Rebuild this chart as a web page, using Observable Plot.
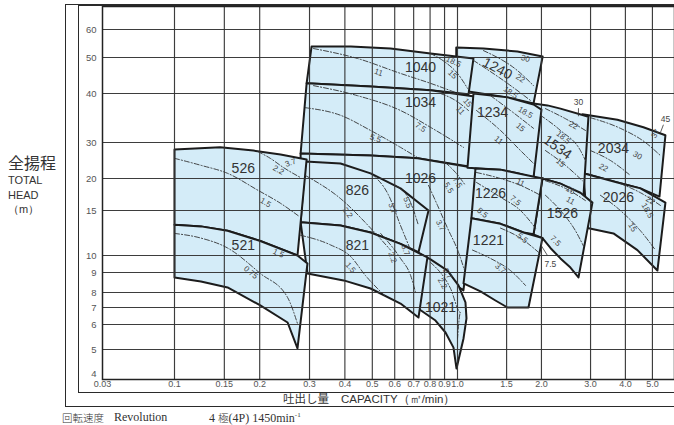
<!DOCTYPE html>
<html><head><meta charset="utf-8">
<script src="https://cdn.jsdelivr.net/npm/d3@7"></script>
<script src="https://cdn.jsdelivr.net/npm/@observablehq/plot@0.6"></script>
<style>
html,body{margin:0;padding:0;background:#fff}
body{width:674px;height:425px;position:relative;overflow:hidden;font-family:"Liberation Sans",Arial,sans-serif;color:#333}
#chart{position:absolute;left:0;top:0}
.box{position:absolute;border:1.4px solid #2a2a2a;box-sizing:border-box}
#outer{left:65px;top:4px;width:640px;height:403px}
#inner{left:78px;top:5px;width:640px;height:388px}
#ytitle{position:absolute;left:8px;top:151px;line-height:14.5px;font-size:11px;color:#333}
#ytitle .jp{font-family:"Noto Sans CJK JP";font-size:16px;line-height:22px}
#xtitle{position:absolute;left:283px;top:390px;font-size:11.5px;white-space:nowrap;color:#333}
#xtitle .jp{font-family:"Noto Sans CJK JP";font-size:11.5px}
.cap{position:absolute;top:410px;font-size:12px;font-family:"Liberation Serif","DejaVu Serif",serif;color:#333;white-space:nowrap}
.cap .jp{font-family:"Noto Sans CJK JP";font-weight:300}
</style></head><body>
<div id="outer" class="box"></div>
<div id="inner" class="box"></div>
<div id="chart"></div>
<div id="ytitle"><span class="jp">全揚程</span><br>TOTAL<br>HEAD<br>（m）</div>
<div id="xtitle"><span class="jp">吐出し量</span>　CAPACITY（㎥/min）</div>
<div class="cap" style="left:62px;top:410px"><span class="jp" style="font-size:10.5px">回転速度</span></div>
<div class="cap" style="left:114px">Revolution</div>
<div class="cap" style="left:209px">4 <span class="jp" style="font-size:10.5px">極</span>(4P) 1450min<sup style="font-size:7px">-1</sup></div>
<script>
// ---- axis ticks ----
const xTicks = [0.03,0.1,0.15,0.2,0.3,0.4,0.5,0.6,0.7,0.8,0.9,1.0,1.5,2.0,3.0,4.0,5.0];
const xTickLabels = ["0.03","0.1","0.15","0.2","0.3","0.4","0.5","0.6","0.7","0.8","0.9","1.0","1.5","2.0","3.0","4.0","5.0"];
const yTicks = [4,5,6,7,8,9,10,15,20,30,40,50,60];

// ---- pump regions [capacity m3/min, head m] ----
const r1240 = [[0.99,53.4],[1.24,53.0],[1.64,52.0],[2.02,50.3],[1.873,37.7],[1.511,39.1],[1.095,40.5],[0.99,40.5]];
const r1040 = [[0.305,53.7],[0.42,53.7],[0.58,53.0],[0.803,51.3],[1.141,49.7],[1.095,39.8],[0.803,40.8],[0.493,41.8],[0.293,42.6]];
const r1034 = [[0.293,42.6],[0.493,41.8],[0.803,40.8],[1.15,39.3],[1.10,22.9],[0.723,25.1],[0.493,25.9],[0.279,26.5]];
const r1026 = [[0.279,26.5],[0.493,25.9],[0.723,25.1],[1.09,22.8],[1.17,22.3],[1.135,14.0],[1.05,8.1],[1.0,8.3],[0.92,9.0],[0.80,9.7],[0.70,10.4],[0.58,11.3],[0.493,12.2],[0.386,13.0],[0.279,13.5]];
const r1021 = [[0.493,12.3],[0.58,11.4],[0.70,10.5],[0.803,9.76],[0.922,9.11],[1.008,8.34],[1.068,7.32],[1.077,6.34],[1.051,5.42],[1.017,4.78],[0.992,4.34],[0.968,5.07],[0.907,5.66],[0.836,6.22],[0.752,6.75],[0.683,7.25],[0.58,7.93],[0.493,8.34]];
const r826 = [[0.290,24.2],[0.386,23.7],[0.493,21.2],[0.629,18.3],[0.79,15.0],[0.728,10.3],[0.629,11.1],[0.493,12.3],[0.386,13.1],[0.279,13.5]];
const r821 = [[0.279,13.5],[0.386,13.1],[0.493,12.3],[0.629,11.1],[0.783,9.88],[0.728,6.39],[0.629,7.25],[0.493,8.19],[0.396,8.59],[0.295,8.95]];
const r526 = [[0.1,27.7],[0.145,28.4],[0.19,27.4],[0.237,26.2],[0.293,24.8],[0.272,10.0],[0.201,11.4],[0.154,12.5],[0.124,13.0],[0.1,13.2]];
const r521 = [[0.1,13.2],[0.124,13.0],[0.154,12.5],[0.201,11.4],[0.272,10.0],[0.295,9.52],[0.272,5.04],[0.251,6.11],[0.201,7.13],[0.154,8.24],[0.124,8.54],[0.1,8.74]];
const r2034 = [[2.806,35.4],[3.745,34.3],[4.642,32.8],[5.567,31.3],[5.30,17.0],[4.529,18.3],[3.745,19.3],[2.829,21.2]];
const r2026 = [[2.829,21.2],[3.745,19.3],[4.529,18.3],[5.567,16.1],[5.211,9.11],[4.418,10.5],[3.624,12.2],[2.924,12.8]];
const r1534 = [[1.873,37.7],[2.102,37.3],[2.34,36.6],[2.948,34.9],[2.829,17.0],[2.34,19.1],[2.017,20],[1.873,20.2]];
const r1526 = [[2.017,20],[2.34,19.1],[2.76,17.6],[3.047,16.1],[2.715,8.74],[2.541,9.28],[2.34,9.82],[2.154,10.7],[2.017,11.7],[1.873,12.1]];
const r1234 = [[1.141,40],[1.511,39.1],[1.873,37.5],[2.0,36.4],[1.873,20.2],[1.641,21.2],[1.426,22.1],[1.086,22.6]];
const r1226 = [[1.16,22.4],[1.426,22.1],[1.641,21.2],[2.017,20],[1.873,12.1],[1.724,12.3],[1.426,13.3],[1.122,14.0]];
const r1221 = [[1.122,14.0],[1.426,13.3],[1.724,12.3],[2.017,11.7],[1.797,7.0],[1.511,7.0],[1.368,7.45],[1.209,8.05],[1.051,8.44]];
const regionOrder = ["1240","1040","1034","1026","1021","826","821","526","521","2034","2026","1534","1526","1234","1226","1221"];
const regionPoints = [r1240,r1040,r1034,r1026,r1021,r826,r821,r526,r521,r2034,r2026,r1534,r1526,r1234,r1226,r1221];

// ---- motor power boundary lines (dash-dot) ----
const dashLines = [
  [[0.1,25.1],[0.124,23.2],[0.154,21.2],[0.197,18.0],[0.237,16.0],[0.274,14.3]],
  [[0.197,27.1],[0.218,25.1],[0.243,22.6],[0.279,20.2]],
  [[0.1,12.2],[0.124,11.7],[0.154,10.7],[0.201,8.95],[0.251,7.65],[0.272,6.05]],
  [[0.31,53.0],[0.443,49.7],[0.629,45.3],[0.803,42.6],[0.984,40.25]],
  [[0.803,51.3],[0.907,48.5],[1.0,45.3],[1.086,41.3]],
  [[0.31,42.0],[0.443,39.5],[0.629,36.2],[0.803,32.8],[1.051,28.4]],
  [[0.29,36.8],[0.386,35.2],[0.493,32.2],[0.629,28.4],[0.723,25.3]],
  [[0.871,40],[0.984,38.4],[1.095,36.2]],
  [[0.79,18.8],[0.85,15.7],[0.922,12.8],[1.008,10.3],[1.06,9.11]],
  [[0.907,23.9],[0.984,21.4],[1.068,18.8]],
  [[0.29,20.7],[0.386,16.7],[0.493,12.8],[0.58,10.5]],
  [[0.493,21.2],[0.571,17.2],[0.629,13.1],[0.683,10.5]],
  [[0.604,18.8],[0.683,16.1],[0.728,13.1]],
  [[0.279,12.0],[0.356,11.0],[0.419,9.94],[0.473,8.84],[0.557,7.72]],
  [[0.535,12.2],[0.629,9.82],[0.683,8.84],[0.711,8.0]],
  [[0.803,9.58],[0.945,8.19],[1.025,6.69],[1.0,5.42]],
  [[1.239,52.3],[1.641,46.1],[1.873,42.0]],
  [[1.141,49.1],[1.511,42.6],[1.827,38.4]],
  [[1.313,39.5],[1.549,36.2],[1.873,32.6]],
  [[1.17,36.2],[1.426,32.2],[1.682,27.4],[1.904,23.2]],
  [[1.17,21.4],[1.426,20],[1.682,18.8],[1.984,17.2]],
  [[1.17,19.3],[1.426,16.9],[1.682,15],[1.904,12.8]],
  [[1.426,12.8],[1.682,11.7],[1.951,10.3]],
  [[1.132,10.5],[1.313,9.82],[1.549,9.11],[1.753,8.34]],
  [[2.067,36.6],[2.438,34.5],[2.876,32.2]],
  [[1.984,35.2],[2.34,32.2],[2.76,27.4],[2.876,24.5]],
  [[2.067,27.4],[2.438,23.2],[2.806,19.6]],
  [[2.067,19.6],[2.438,18.3],[2.876,16.4]],
  [[2.067,17.2],[2.34,15],[2.648,12.5],[2.829,10.9]],
  [[2.997,34.7],[3.838,32.6],[4.718,30],[5.342,25.9]],
  [[2.997,27.4],[3.535,24.5],[4.17,20.7]],
  [[3.838,19.1],[4.529,17.6],[5.342,15.7]],
  [[3.254,17.2],[3.838,15],[4.529,12.5],[5.126,10.5]]
];

// ---- motor power labels (kW) [q, h, text, angle] ----
const powerLabels = [
  [0.21,16.1,"1.5",30],[0.257,23.9,"3.7",-20],[0.233,22.0,"2.2",30],
  [0.186,9.0,"0.75",40],[0.233,10.2,"1.5",25],
  [0.526,45.6,"11",20],[0.968,48.7,"18.5",25],[0.96,45.0,"15",45],
  [0.74,32.8,"7.5",35],[0.513,30.7,"5.5",20],[1.086,37.9,"15",50],[1.025,36.2,"11",50],
  [0.871,13.1,"3.7",65],[1.0,19.3,"7.5",60],[0.93,18.4,"5.5",60],
  [0.409,14.7,"2.2",55],[0.589,15.3,"3.7",70],[0.666,16.1,"5.5",70],
  [0.419,9.28,"1.5",50],[0.589,9.88,"2.2",70],[0.655,10.5,"3.7",70],
  [0.922,8.95,"3.7",60],[0.885,8.44,"2.2",60],
  [1.753,49.7,"30",15],[1.682,43.9,"22",35],[1.549,40.25,"18.5",35],
  [1.753,35.8,"18.5",30],[1.682,32.8,"15",40],[1.403,30.4,"11",40],
  [1.682,19.3,"11",25],[1.614,16.4,"7.5",40],[1.229,14.7,"5.5",40],
  [1.71,11.7,"5.5",40],[1.426,9.23,"3.7",40],
  [2.605,33.2,"22",30],[2.398,30.9,"18.5",40],[2.34,23.9,"15",40],
  [2.541,18.0,"15",30],[2.541,16.4,"11",30],[2.245,11.4,"7.5",45],
  [4.418,25.9,"30",30],[5.126,31.6,"37",-60],[3.337,22.6,"22",30],
  [4.918,16.4,"22",30],[4.797,15.0,"18.5",60],[4.24,12.9,"15",60]
];
const noteLabels = [[2.715,37.9,"30"],[5.567,34.4,"45"],[2.154,9.45,"7.5"]];
const noteTicks = [[2.715,36.7,2.715,35.0],[5.476,33.3,5.342,31.8],[2.0,10.9,2.102,10.0]];

// ---- model labels [name, q, h, angle] ----
const modelLabels = [
  ["526",0.175,22.4,0],["521",0.175,10.9,0],["826",0.443,18.0,0],["821",0.443,10.9,0],
  ["1040",0.74,47.0,0],["1034",0.74,37.9,0],["1026",0.74,20.0,0],["1021",0.871,7.0,0],
  ["1240",1.391,46.7,28],["1234",1.335,35.8,0],["1226",1.313,17.5,0],["1221",1.291,11.4,0],
  ["1534",2.283,28.4,35],["1526",2.378,14.6,0],["2034",3.624,28.0,0],["2026",3.776,16.9,0]
];

// ---- build tables ----
const regionRows = regionOrder.flatMap((m,i) => regionPoints[i].map(([q,h]) => ({model:m,q,h})));
const dashRows = dashLines.flatMap((pts,i) => pts.map(([q,h]) => ({id:i,q,h})));
const powerRows = powerLabels.map(([q,h,t,a]) => ({q,h,t,a}));
const modelRows = modelLabels.map(([t,q,h,a]) => ({t,q,h,a}));
const noteRows = noteLabels.map(([q,h,t]) => ({q,h,t}));
const tickRows = noteTicks.map(([q1,h1,q2,h2]) => ({q1,h1,q2,h2}));
const xRows = xTicks.map((d,i) => ({q:d, t:xTickLabels[i]}));
const yRows = yTicks.slice(1).map(d => ({h:d, t:String(d)}));
const yBottom = [{h:yTicks[0], t:String(yTicks[0])}];

const chart = Plot.plot({
  width: 674, height: 410,
  marginLeft: 102, marginTop: 6, marginRight: 0, marginBottom: 31,
  style: {background: "transparent", fontFamily: "Liberation Sans, Arial, sans-serif", overflow: "visible"},
  x: {type: "log", domain: [0.03, 0.1, 1, 6], range: [102, 174, 457, 674], axis: null},
  y: {type: "log", domain: [4,5,6,7,8,9,10,15,20,30,40,50,60,70],
      range: [379,349,324,307,292,272,255,210,178,142,93,57,29,6], axis: null},
  marks: [
    Plot.line(regionRows, {x: "q", y: "h", z: "model", curve: "linear-closed",
      fill: "#d4ecf8", stroke: "#1c1c1c", strokeWidth: 2, strokeLinejoin: "round"}),
    Plot.gridX(xTicks.slice(1), {stroke: "#333", strokeOpacity: 0.95, strokeWidth: 1.15}),
    Plot.gridY(yTicks.slice(1), {stroke: "#333", strokeOpacity: 0.95, strokeWidth: 1.15}),
    Plot.line(dashRows, {x: "q", y: "h", z: "id", stroke: "#333", strokeWidth: 0.9,
      strokeDasharray: "5,2,1.2,2", curve: "monotone-x"}),
    Plot.link(tickRows, {x1: "q1", y1: "h1", x2: "q2", y2: "h2", stroke: "#333", strokeWidth: 0.8}),
    Plot.text(powerRows, {x: "q", y: "h", text: "t", rotate: "a", fontSize: 8, fill: "#444"}),
    Plot.text(noteRows, {x: "q", y: "h", text: "t", fontSize: 8.5, fill: "#444"}),
    Plot.text(modelRows, {x: "q", y: "h", text: "t", rotate: "a", fontSize: 14, fill: "#333"}),
    Plot.text(yRows, {y: "h", text: "t", frameAnchor: "left", textAnchor: "end", dx: -6, fontSize: 9.5, fill: "#555"}),
    Plot.text(yBottom, {y: "h", text: "t", frameAnchor: "left", textAnchor: "end", dx: -6, dy: -6, fontSize: 9.5, fill: "#555"}),
    Plot.text(xRows, {x: "q", text: "t", frameAnchor: "bottom", lineAnchor: "top", dy: 1.5, fontSize: 9, fill: "#555"}),
    Plot.frame({stroke: "#222", strokeWidth: 1.5})
  ]
});
document.getElementById("chart").appendChild(chart);
</script>
</body></html>
